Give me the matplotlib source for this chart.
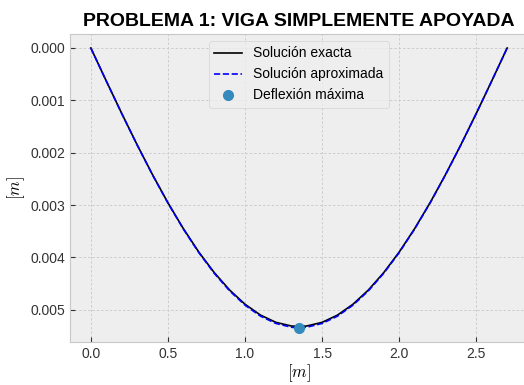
import matplotlib
matplotlib.use("Agg")
import matplotlib.pyplot as plt

plt.style.use("bmh")
plt.rcParams["font.family"] = ["Liberation Sans", "DejaVu Sans"]
plt.rcParams["mathtext.fontset"] = "cm"

# posiciones a lo largo de la viga [m]
x = [0.0, 0.1, 0.2, 0.3, 0.4, 0.5, 0.6, 0.7, 0.8, 0.9, 1.0, 1.1, 1.2, 1.3,
     1.35, 1.4, 1.5, 1.6, 1.7, 1.8, 1.9, 2.0, 2.1, 2.2, 2.3, 2.4, 2.5, 2.6, 2.7]

# deflexion exacta [m]
y_exacta = [0.0, 0.000629, 0.001248, 0.001848, 0.002420, 0.002957, 0.003451,
            0.003898, 0.004290, 0.004624, 0.004896, 0.005103, 0.005242, 0.005312,
            0.005320, 0.005312, 0.005242, 0.005103, 0.004896, 0.004624, 0.004290,
            0.003898, 0.003451, 0.002957, 0.002420, 0.001848, 0.001248, 0.000629, 0.0]

# deflexion aproximada [m]
y_aprox = [0.0, 0.000630, 0.001250, 0.001851, 0.002424, 0.002963, 0.003459,
           0.003908, 0.004303, 0.004640, 0.004914, 0.005123, 0.005263, 0.005335,
           0.005350, 0.005335, 0.005263, 0.005123, 0.004914, 0.004640, 0.004303,
           0.003908, 0.003459, 0.002963, 0.002424, 0.001851, 0.001250, 0.000630, 0.0]

x_max = 1.35
y_max = 0.00535

fig = plt.figure(figsize=(5.24, 3.85), dpi=100)
ax = fig.add_axes([0.1336, 0.1117, 0.874, 0.80])

ax.plot(x, y_exacta, color="black", lw=1.2, label="Solución exacta")
ax.plot(x, y_aprox, "--", color="blue", lw=1.2, label="Solución aproximada")
ax.plot([x_max], [y_max], "o", color="#348ABD", ms=7, label="Deflexión máxima")

ax.invert_yaxis()
ax.grid(True, color="#cccccc", ls=(0, (2.5, 2)), lw=0.7)
for s in ax.spines.values():
    s.set_color("#c8c8c8")
ax.set_title("PROBLEMA 1: VIGA SIMPLEMENTE APOYADA", fontsize=14, fontweight="bold")
ax.set_xlabel(r"$[m]$", fontsize=12, labelpad=1)
ax.set_ylabel(r"$[m]$", fontsize=12, labelpad=2)
ax.tick_params(labelsize=10, colors="#333333")
ax.legend(loc="upper center", fontsize=10)

fig.savefig("out.png", dpi=100)
